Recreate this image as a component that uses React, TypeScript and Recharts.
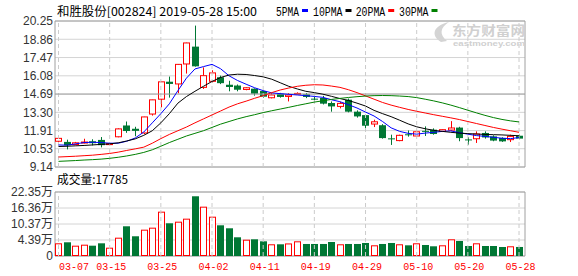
import React from 'react';
import { ComposedChart, Bar, Line, XAxis, YAxis, CartesianGrid, ReferenceLine, ReferenceArea } from 'recharts';

const dates = ['03-07','03-08','03-11','03-12','03-13','03-14','03-15','03-18','03-19','03-20','03-21','03-22','03-25','03-26','03-27','03-28','03-29','04-01','04-02','04-03','04-04','04-08','04-09','04-10','04-11','04-12','04-15','04-16','04-17','04-18','04-19','04-22','04-23','04-24','04-25','04-26','04-29','04-30','05-06','05-07','05-08','05-09','05-10','05-13','05-14','05-15','05-16','05-17','05-20','05-21','05-22','05-23','05-24','05-27','05-28'];

const opens = [11.1,11.05,10.85,11.0,11.1,11.2,10.88,11.44,12.3,12.05,11.73,13.17,14.3,15.63,15.46,16.98,18.3,15.2,15.66,15.97,15.4,15.34,15.04,15.1,14.92,14.41,14.72,14.51,14.7,14.67,14.34,14.39,14.01,13.75,14.26,13.35,13.09,12.41,12.32,11.32,11.15,11.63,11.5,11.89,11.98,11.85,11.95,12.14,11.24,11.29,11.73,11.47,11.35,11.22,11.52];
const highs = [11.45,11.22,11.05,11.29,11.25,11.42,10.95,12.08,12.6,12.2,12.96,14.26,15.64,16.02,16.97,18.6,19.9,16.72,16.5,16.09,15.7,15.42,15.2,15.12,14.95,14.77,14.78,14.77,14.82,14.77,14.55,14.55,14.13,14.1,14.35,13.45,13.15,12.74,12.4,11.6,11.6,11.92,11.9,12.23,12.08,12.0,12.63,12.2,11.4,11.85,11.85,11.55,11.4,11.6,11.6];
const lows = [10.98,10.48,10.8,10.93,10.78,10.63,10.85,11.4,11.74,11.48,11.65,13.05,13.68,14.42,14.75,16.25,16.78,15.08,15.57,15.45,14.9,14.9,14.98,14.57,14.42,14.36,14.42,14.13,14.65,14.38,14.0,13.9,13.35,13.6,13.3,12.9,11.83,12.18,11.3,10.82,11.1,11.45,11.42,11.5,11.6,11.8,11.9,11.1,10.84,10.97,11.3,11.1,11.05,11.04,11.25];
const closes = [11.32,10.8,10.98,11.04,10.95,10.8,10.92,12.04,11.88,11.89,12.95,14.25,15.62,15.46,16.95,18.58,16.8,16.09,16.3,15.52,15.23,15.02,15.17,14.72,14.49,14.62,14.47,14.62,14.74,14.47,14.3,13.96,13.75,13.98,13.35,12.99,12.28,12.58,11.34,11.28,11.55,11.57,11.82,11.85,11.65,11.98,12.11,11.34,11.2,11.65,11.39,11.15,11.09,11.47,11.3];
// volume in 万
const volumes = [3.15,3.53,2.26,2.63,2.26,3.15,1.51,5.25,9.52,5.78,8.25,9.0,14.99,10.64,11.24,12.37,20.75,16.86,13.11,9.89,8.77,5.4,4.5,4.65,3.9,2.78,2.78,3.1,3.9,2.9,2.9,2.9,3.64,2.78,2.9,2.9,3.27,2.4,2.9,3.27,2.78,2.4,3.15,2.52,2.03,2.4,4.65,4.02,2.14,3.15,2.14,2.14,1.77,2.03,1.7785];

const ma5 = [10.82,10.8,10.9,11.0,11.02,11.0,10.95,10.95,11.1,11.35,11.8,12.5,13.2,13.95,14.95,15.9,16.6,16.78,16.95,16.62,16.08,15.72,15.44,15.17,14.95,14.78,14.72,14.67,14.62,14.57,14.51,14.44,14.26,14.11,13.88,13.63,13.32,13.02,12.6,12.12,11.85,11.7,11.64,11.72,11.78,11.85,11.89,11.75,11.64,11.53,11.47,11.4,11.33,11.3,11.38];
const ma10 = [10.7,10.72,10.75,10.78,10.82,10.86,10.9,10.98,11.12,11.28,11.55,11.9,12.5,13.2,14.0,14.5,14.9,15.28,15.65,15.95,16.14,16.2,16.18,16.1,16.0,15.82,15.55,15.28,15.08,14.9,14.8,14.68,14.52,14.35,14.2,14.0,13.78,13.45,13.2,12.97,12.7,12.42,12.2,12.05,11.93,11.85,11.78,11.72,11.68,11.65,11.62,11.6,11.58,11.55,11.52];
const ma20 = [9.9,9.93,9.96,10.0,10.04,10.1,10.17,10.27,10.4,10.52,10.65,10.95,11.3,11.62,11.9,12.18,12.5,12.8,13.1,13.4,13.7,13.95,14.15,14.37,14.57,14.8,15.0,15.15,15.28,15.36,15.4,15.38,15.3,15.2,15.02,14.8,14.55,14.3,14.05,13.85,13.68,13.52,13.38,13.25,13.12,13.0,12.88,12.75,12.6,12.45,12.3,12.15,12.02,11.9,11.78];
const ma30 = [9.57,9.6,9.63,9.67,9.7,9.74,9.8,9.88,9.98,10.1,10.25,10.45,10.72,11.0,11.25,11.5,11.7,11.9,12.15,12.4,12.6,12.8,12.97,13.12,13.28,13.42,13.55,13.68,13.82,13.95,14.08,14.18,14.28,14.36,14.43,14.49,14.54,14.57,14.58,14.57,14.54,14.5,14.42,14.3,14.17,14.02,13.85,13.66,13.46,13.26,13.07,12.9,12.76,12.65,12.57];

const priceTicks = [9.14, 10.53, 11.91, 13.30, 14.69, 16.08, 17.47, 18.86, 20.25];
const volTicks = [-1.6, 4.39, 10.37, 16.36, 22.35];
const volTickLabels = ['0', '4.39万', '10.37万', '16.36万', '22.35万'];
const labelIdx = [0, 6, 12, 18, 24, 30, 36, 42, 48, 54];

const title = '和胜股份[002824] 2019-05-28 15:00';
const volTitle = '成交量:17785';
const legendItems = [
  { name: '5PMA', color: '#0000ff' },
  { name: '10PMA', color: '#000000' },
  { name: '20PMA', color: '#ff0000' },
  { name: '30PMA', color: '#008000' },
];

const UP = '#ff0000';
const DOWN = '#007734';
const GRID = '#d4d4d4';
const BORDER = '#a0a0a0';
const X_DOMAIN: [number, number] = [-0.41, 54.7];
const VOL_BASE = volTicks[0];

const data = dates.map((d, i) => ({
  i,
  date: d,
  o: opens[i],
  h: highs[i],
  l: lows[i],
  c: closes[i],
  range: [lows[i], highs[i]],
  volRange: [VOL_BASE, volumes[i]],
  ma5: ma5[i],
  ma10: ma10[i],
  ma20: ma20[i],
  ma30: ma30[i],
}));

function Candle(props: any) {
  const { x, y, width, height, payload } = props;
  if (x == null || y == null || !payload) return null;
  const { o, h, l, c } = payload;
  const top = Math.min(y, y + height);
  const bot = Math.max(y, y + height);
  const span = h - l || 1;
  const yOf = (v: number) => top + ((h - v) / span) * (bot - top);
  const cx = Math.round(x + width / 2 - 0.5) + 0.5;
  const up = c >= o;
  const color = up ? UP : DOWN;
  const bTop = yOf(Math.max(o, c));
  const bBot = yOf(Math.min(o, c));
  const bh = Math.max(1, bBot - bTop);
  return (
    <g>
      <line x1={cx} x2={cx} y1={top} y2={bot} stroke={color} strokeWidth={1} />
      {up ? (
        <rect x={cx - 3} y={bTop} width={6} height={bh} fill="#ffffff" stroke={color} strokeWidth={1} />
      ) : (
        <rect x={cx - 3.5} y={bTop} width={7} height={bh} fill={color} />
      )}
    </g>
  );
}

function VolBar(props: any) {
  const { x, y, width, height, payload } = props;
  if (x == null || y == null || !payload) return null;
  const top = Math.min(y, y + height);
  const bot = Math.max(y, y + height);
  const cx = Math.round(x + width / 2 - 0.5) + 0.5;
  const up = payload.c >= payload.o;
  return up ? (
    <rect x={cx - 3} y={top + 0.5} width={6} height={Math.max(0, bot - top - 1)} fill="#ffffff" stroke={UP} strokeWidth={1} />
  ) : (
    <rect x={cx - 3.5} y={top} width={7} height={bot - top} fill={DOWN} />
  );
}

function DateTick(props: any) {
  const { x, y, payload } = props;
  const i = payload.value;
  const first = i === labelIdx[0];
  return (
    <text
      x={first ? x + 0.5 : x + 1.5}
      y={y + 14}
      textAnchor={first ? 'start' : 'middle'}
      fill="#ff0000"
      fontSize={11}
      fontFamily="'Liberation Mono', 'DejaVu Sans Mono', monospace"
      textLength={30}
      lengthAdjust="spacingAndGlyphs"
    >
      {dates[i]}
    </text>
  );
}

const axisFont = { fill: '#333333', fontSize: 12, fontFamily: "'Liberation Sans', Arial, 'Noto Sans CJK SC', sans-serif" };

export default function App() {
  return (
    <div style={{ position: 'absolute', left: 0, top: 0, width: 578, height: 276, background: '#ffffff', overflow: 'hidden' }}>
      <div style={{ position: 'absolute', left: 0, top: 0 }}>
        <ComposedChart width={578} height={176} data={data} margin={{ top: 21, right: 53, bottom: 9, left: 0 }}>
          <CartesianGrid vertical={false} stroke={GRID} />
          {labelIdx.map((i) => (
            <ReferenceLine key={'v' + i} x={i} stroke="#cccccc" strokeDasharray="4 3" />
          ))}
          <ReferenceLine y={priceTicks[4]} stroke={BORDER} />
          <XAxis dataKey="i" type="number" domain={X_DOMAIN} ticks={labelIdx} hide allowDataOverflow />
          <YAxis
            type="number"
            domain={[priceTicks[0], priceTicks[priceTicks.length - 1]]}
            ticks={priceTicks}
            interval={0}
            width={55}
            axisLine={false}
            tickLine={false}
            tickSize={0}
            tickMargin={2}
            tick={axisFont}
            tickFormatter={(v: number) => v.toFixed(2)}
            allowDataOverflow
          />
          <Bar dataKey="range" barSize={7} shape={(p: any) => <Candle {...p} />} isAnimationActive={false} />
          <Line dataKey="ma5" stroke="#0000ff" strokeWidth={1} dot={false} activeDot={false} isAnimationActive={false} />
          <Line dataKey="ma10" stroke="#000000" strokeWidth={1} dot={false} activeDot={false} isAnimationActive={false} />
          <Line dataKey="ma20" stroke="#ff0000" strokeWidth={1} dot={false} activeDot={false} isAnimationActive={false} />
          <Line dataKey="ma30" stroke="#008000" strokeWidth={1} dot={false} activeDot={false} isAnimationActive={false} />
          <ReferenceArea y1={priceTicks[0]} y2={priceTicks[priceTicks.length - 1]} fill="none" fillOpacity={0} stroke={BORDER} strokeWidth={1} />
        </ComposedChart>
      </div>
      <div style={{ position: 'absolute', left: 0, top: 170 }}>
        <ComposedChart width={578} height={106} data={data} margin={{ top: 22, right: 53, bottom: 0, left: 0 }}>
          <CartesianGrid vertical={false} stroke={GRID} />
          {labelIdx.map((i) => (
            <ReferenceLine key={'vv' + i} x={i} stroke="#cccccc" strokeDasharray="4 3" />
          ))}
          <XAxis
            dataKey="i"
            type="number"
            domain={X_DOMAIN}
            ticks={labelIdx}
            interval={0}
            height={20}
            axisLine={false}
            tickLine={false}
            tickSize={0}
            tickMargin={0}
            tick={(p: any) => <DateTick {...p} />}
            allowDataOverflow
          />
          <YAxis
            type="number"
            domain={[volTicks[0], volTicks[volTicks.length - 1]]}
            ticks={volTicks}
            interval={0}
            width={55}
            axisLine={false}
            tickLine={false}
            tickSize={0}
            tickMargin={2}
            tick={axisFont}
            tickFormatter={(v: number) => {
              const k = volTicks.indexOf(v);
              return k >= 0 ? volTickLabels[k] : '';
            }}
            allowDataOverflow
          />
          <Bar dataKey="volRange" barSize={7} shape={(p: any) => <VolBar {...p} />} isAnimationActive={false} />
          <ReferenceArea y1={volTicks[0]} y2={volTicks[volTicks.length - 1]} fill="none" fillOpacity={0} stroke={BORDER} strokeWidth={1} />
        </ComposedChart>
      </div>
      <svg width={578} height={276} style={{ position: 'absolute', left: 0, top: 0, pointerEvents: 'none' }}>
        <path d="M441,42 C431,36 432,26 449,22 C440,28 439,34 447,41 Z" fill="#d4d4d4" />
        <text x={452} y={35} fontSize={13} fontWeight="bold" fill="#d0d0d0" fontFamily="'Noto Sans CJK SC', sans-serif" textLength={73} lengthAdjust="spacingAndGlyphs">东方财富网</text>
        <text x={453} y={46} fontSize={8} fontWeight="bold" fill="#d0d0d0" fontFamily="'Liberation Sans', Arial, sans-serif" textLength={72} lengthAdjust="spacingAndGlyphs">eastmoney.com</text>
        <text x={57} y={16} fontSize={12} fill="#000000" fontFamily="'Noto Sans CJK SC', sans-serif" textLength={200} lengthAdjust="spacingAndGlyphs">{title}</text>
        {(() => {
          const xs = [276, 313, 355.7, 399];
          const ws = [23, 29.5, 29.5, 29.5];
          return legendItems.map((it, k) => (
            <g key={it.name}>
              <text x={xs[k]} y={16} fontSize={12} fill="#000000" fontFamily="'Liberation Mono', 'DejaVu Sans Mono', monospace" textLength={ws[k]} lengthAdjust="spacingAndGlyphs">{it.name}</text>
              <rect x={xs[k] + ws[k] + 3} y={9} width={6} height={3} fill={it.color} />
            </g>
          ));
        })()}
        <text x={57} y={184} fontSize={12} fill="#000000" fontFamily="'Noto Sans CJK SC', sans-serif" textLength={71} lengthAdjust="spacingAndGlyphs">{volTitle}</text>
      </svg>
    </div>
  );
}
